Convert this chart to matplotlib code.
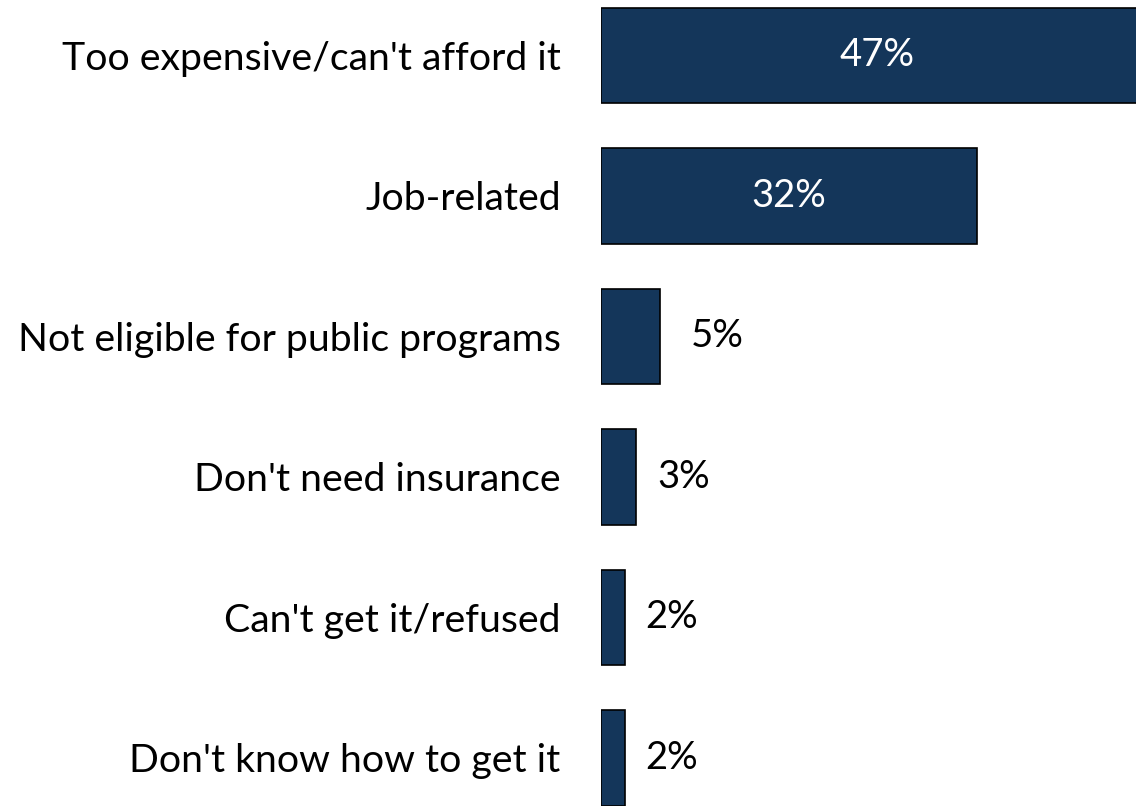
import matplotlib.pyplot as plt

categories = ["Too expensive/can't afford it", "Job-related", "Not eligible for public programs",
              "Don't need insurance", "Can't get it/refused", "Don't know how to get it"]
values = [47, 32, 5, 3, 2, 2]
value_labels = ["47%", "32%", "5%", "3%", "2%", "2%"]

plt.rcParams['font.family'] = ['Lato', 'DejaVu Sans']

fig = plt.figure(figsize=(11.36, 8.06), dpi=100)
ax = fig.add_axes([601 / 1136, 0, 1 - 601 / 1136, 1])

ypos = list(range(len(categories)))
bars = ax.barh(ypos, values, height=0.68, color='#14365A', edgecolor='black', linewidth=1.2)

ax.set_xlim(0, 45.5)
ax.set_ylim(5.342, -0.395)

# etykiety wartosci: w srodku dla duzych, obok dla malych
for i, (v, lab) in enumerate(zip(values, value_labels)):
    if v > 10:
        ax.text(v / 2, i, lab, ha='center', va='center', color='white', fontsize=27.5)
    else:
        ax.annotate(lab, (v, i), xytext=(22 if v > 4 else 15, 0), textcoords='offset points',
                    ha='left', va='center', color='black', fontsize=27.5)

ax.set_yticks(ypos)
ax.set_yticklabels(categories, fontsize=28.3)
ax.tick_params(axis='y', length=0, pad=29)
ax.set_xticks([])
for s in ax.spines.values():
    s.set_visible(False)

fig.savefig('out.png', dpi=100)
